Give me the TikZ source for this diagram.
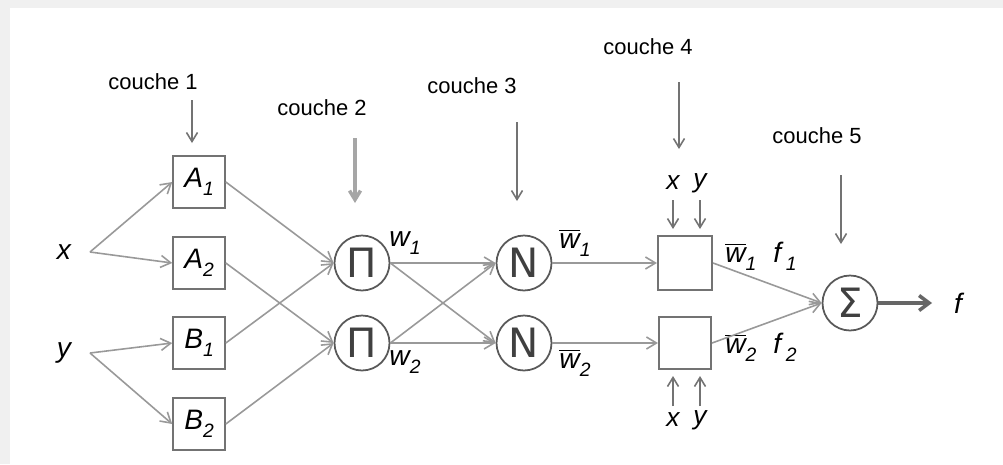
\documentclass[tikz,border=0pt]{standalone}
\usepackage{fontspec}
\setmainfont{Liberation Sans}
\newfontfamily\symfont{DejaVu Sans}
\usetikzlibrary{arrows.meta}
\newcommand\ovw{$\overline{\mbox{\itshape w}}$}
\newcommand\sbs[1]{\raisebox{-0.55ex}{\fontsize{11}{12}\selectfont\itshape #1}}
\begin{document}
\begin{tikzpicture}[x=0.02cm,y=-0.02cm,
  conn/.style={draw=black!40, line width=0.9pt, -{Straight Barb[length=2mm,width=2.4mm]}},
  down/.style={draw=black!55, line width=0.9pt, -{Straight Barb[length=1.8mm,width=2.2mm]}},
  lay/.style={font=\fontsize{12.5}{14}\selectfont, inner sep=0pt},
  box/.style={draw=black!55, line width=1.2pt, minimum size=1.03cm, inner sep=0pt, font=\fontsize{16}{18}\selectfont\itshape},
  op/.style={circle, draw=black!65, line width=1pt, minimum size=1.1cm, inner sep=0pt, text=black!75, font=\symfont\fontsize{23}{24}\selectfont},
  lbl/.style={font=\fontsize{16}{18}\selectfont\itshape, inner sep=1pt},
  sm/.style={font=\fontsize{15}{17}\selectfont\itshape, inner sep=1pt}]
\useasboundingbox (0,0) rectangle (1003,464);
\fill[black!6] (0,0) rectangle (1003,464);
\fill[white] (10,8) rectangle (1003,464);

% layer 1
\node[box] (A1) at (199,182) {A\sbs{1}};
\node[box] (A2) at (199,263) {A\sbs{2}};
\node[box] (B1) at (199,343) {B\sbs{1}};
\node[box] (B2) at (199,424) {B\sbs{2}};
\node[lbl] (x) at (64,252) {x};
\node[lbl] (y) at (64,353) {y};
\coordinate (xo) at (90,252);
\coordinate (yo) at (90,353);
\draw[conn] (xo) -- (A1.west);
\draw[conn] (xo) -- (A2.west);
\draw[conn] (yo) -- (B1.west);
\draw[conn] (yo) -- (B2.west);

% layer 2
\node[op] (P1) at (362,263) {Π};
\node[op] (P2) at (362,343) {Π};
\draw[conn] (A1.east) -- (P1.west);
\draw[conn] (B1.east) -- (P1.west);
\draw[conn] (A2.east) -- (P2.west);
\draw[conn] (B2.east) -- (P2.west);
\node[lbl] (w1) at (405,243) {w\sbs{1}};
\node[lbl] (w2) at (405,362) {w\sbs{2}};

% layer 3
\node[op] (N1) at (524,263) {N};
\node[op] (N2) at (524,343) {N};
\draw[conn] (P1.east) -- (N1.west);
\draw[conn] (P1.east) -- (N2.west);
\draw[conn] (P2.east) -- (N1.west);
\draw[conn] (P2.east) -- (N2.west);
\node[lbl] (nw1) at (575,243) {\ovw\sbs{1}};
\node[lbl] (nw2) at (575,363) {\ovw\sbs{2}};

% layer 4
\node[box, minimum size=1.08cm] (C1) at (685,263) {};
\node[box, minimum size=1.04cm] (C2) at (685,343) {};
\draw[conn] (N1.east) -- (C1.west);
\draw[conn] (N2.east) -- (C2.west);
\node[sm] (cx1) at (673,183) {x};
\node[sm] (cy1) at (700,183) {y};
\node[sm] (cx2) at (673,420) {x};
\node[sm] (cy2) at (700,420) {y};
\coordinate (cx1s) at (673,200); \coordinate (cx1e) at (673,229);
\coordinate (cy1s) at (700,200); \coordinate (cy1e) at (700,229);
\coordinate (cx2s) at (673,406); \coordinate (cx2e) at (673,376);
\coordinate (cy2s) at (700,406); \coordinate (cy2e) at (700,376);
\draw[down] (cx1s) -- (cx1e);
\draw[down] (cy1s) -- (cy1e);
\draw[down] (cx2s) -- (cx2e);
\draw[down] (cy2s) -- (cy2e);
\node[lbl] (wf1) at (761,256) {\ovw\sbs{1}\hspace{0.6em}\textit{f}\,\sbs{1}};
\node[lbl] (wf2) at (761,347) {\ovw\sbs{2}\hspace{0.6em}\textit{f}\,\sbs{2}};

% layer 5
\node[op] (S) at (850,303) {Σ};
\draw[conn] (C1.east) -- (S.west);
\draw[conn] (C2.east) -- (S.west);
\node[lbl] (f) at (958,303) {f};
\coordinate (fo) at (932,303);
\draw[draw=black!60, line width=2pt, -{Straight Barb[length=2mm,width=3mm]}] (S.east) -- (fo);

% layer labels
\node[lay] (L1) at (153,82) {couche 1};
\node[lay] (L2) at (322,108) {couche 2};
\node[lay] (L3) at (472,86) {couche 3};
\node[lay] (L4) at (648,47) {couche 4};
\node[lay] (L5) at (817,136) {couche 5};
\coordinate (L1s) at (192,100); \coordinate (L1e) at (192,143);
\coordinate (L2s) at (355,138); \coordinate (L2e) at (355,203);
\coordinate (L3s) at (517,122); \coordinate (L3e) at (517,201);
\coordinate (L4s) at (679,82);  \coordinate (L4e) at (679,149);
\coordinate (L5s) at (841,175); \coordinate (L5e) at (841,244);
\draw[down] (L1s) -- (L1e);
\draw[down, draw=black!35, line width=2pt] (L2s) -- (L2e);
\draw[down] (L3s) -- (L3e);
\draw[down] (L4s) -- (L4e);
\draw[down] (L5s) -- (L5e);
\end{tikzpicture}
\end{document}
